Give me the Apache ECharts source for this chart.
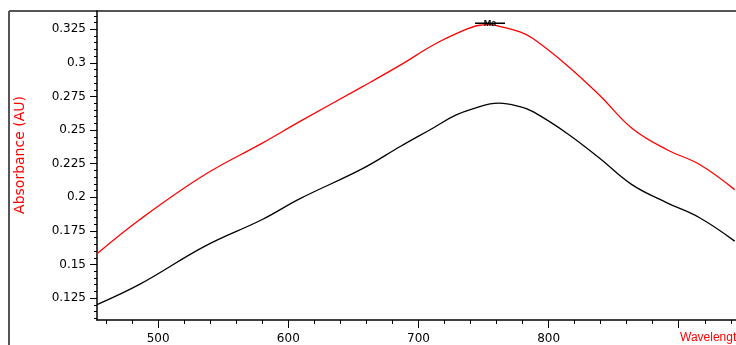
<!DOCTYPE html>
<html><head><meta charset="utf-8">
<script src="https://cdn.jsdelivr.net/npm/echarts@6/dist/echarts.min.js"></script>
<style>html,body{margin:0;padding:0;background:#fff}#c{width:736px;height:345px}</style>
</head><body><div id="c"></div>
<script>
const wavelengths = [453, 486, 536, 580, 609, 657, 686, 711, 729, 747, 755, 762, 778, 788, 814, 839, 864, 891, 916, 943];
const redSeries = [0.158, 0.1835, 0.2169, 0.2403, 0.2565, 0.2823, 0.2983, 0.3131, 0.3218, 0.3280, 0.3285, 0.3272, 0.3230, 0.3181, 0.2983, 0.2761, 0.2514, 0.2354, 0.2244, 0.2057];
const blackSeries = [0.1202, 0.1354, 0.1637, 0.1835, 0.1990, 0.2213, 0.2378, 0.2514, 0.2613, 0.2674, 0.2695, 0.2700, 0.2674, 0.2637, 0.2477, 0.2292, 0.2094, 0.1959, 0.1848, 0.1674];
const xTicks = [500, 600, 700, 800, 900];
const xTickLabels = [500, 600, 700, 800];
const xMinorTicks = [460, 480, 520, 540, 560, 580, 620, 640, 660, 680, 720, 740, 760, 780, 820, 840, 860, 880, 920, 940];
const yTicks = [0.125, 0.15, 0.175, 0.2, 0.225, 0.25, 0.275, 0.3, 0.325];
const yMinorTicks = [];
for (let i = 22; i <= 67; i++) { yMinorTicks.push(+(i * 0.005).toFixed(3)); }
const peakLabel = 'Ma';

const chart = echarts.init(document.getElementById('c'));
const lab = {color:'#000', fontFamily:'DejaVu Sans', fontSize:12};
chart.setOption({
  animation:false,
  grid:{left:97, top:11, right:0, bottom:24, containLabel:false},
  xAxis:[{
    type:'value', min:453, max:944,
    axisLine:{show:true, lineStyle:{color:'#000', width:1.5}},
    axisTick:{show:true, customValues:xTicks, length:8, lineStyle:{color:'#000'}},
    axisLabel:Object.assign({customValues:xTickLabels, margin:13}, lab),
    splitLine:{show:false}
  },{
    type:'value', min:453, max:944, position:'bottom', offset:0,
    axisLine:{show:true, lineStyle:{color:'rgba(0,0,0,0)'}},
    axisTick:{show:true, customValues:xMinorTicks, length:4, lineStyle:{color:'#000', width:1}},
    axisLabel:{show:false}, splitLine:{show:false}
  }],
  yAxis:[{
    type:'value', min:0.1087, max:0.3386,
    axisLine:{show:true, lineStyle:{color:'#000', width:1.5}},
    axisTick:{show:true, customValues:yTicks, length:7, lineStyle:{color:'#000'}},
    axisLabel:Object.assign({customValues:yTicks, margin:11, formatter:v=>String(+v.toFixed(3))}, lab),
    splitLine:{show:false}
  },{
    type:'value', min:0.1087, max:0.3386, position:'left', offset:0,
    axisLine:{show:true, lineStyle:{color:'rgba(0,0,0,0)'}},
    axisTick:{show:true, customValues:yMinorTicks, length:3, lineStyle:{color:'#000', width:1}},
    axisLabel:{show:false}, splitLine:{show:false}
  }],
  graphic:[
    {type:'line', shape:{x1:9, y1:11, x2:736, y2:11}, style:{stroke:'#555', lineWidth:2}},
    {type:'line', shape:{x1:9, y1:11, x2:9, y2:345}, style:{stroke:'#555', lineWidth:2}},
    {type:'text', left:13, top:96, rotation:Math.PI/2, style:{text:'Absorbance (AU)', fill:'#f00', font:'14px DejaVu Sans'}},
    {type:'text', left:680, top:332, style:{text:'Wavelength', fill:'#f00', font:'12px Liberation Sans'}}
  ],
  series:[
    {type:'line', data:wavelengths.map((w,i)=>[w, redSeries[i]]), smooth:0.4, showSymbol:false,
     lineStyle:{color:'#ff0000', width:1.3}},
    {type:'line', data:wavelengths.map((w,i)=>[w, blackSeries[i]]), smooth:0.4, showSymbol:false,
     lineStyle:{color:'#000', width:1.3},
     markPoint:{silent:true, data:[{coord:[755, 0.3295], symbol:'rect', symbolSize:[30,1.5], itemStyle:{color:'#000'},
       label:{show:true, position:'inside', formatter:peakLabel, color:'#000', fontSize:9, fontWeight:'bold', fontFamily:'Liberation Sans'}}]}}
  ]
});
</script></body></html>
